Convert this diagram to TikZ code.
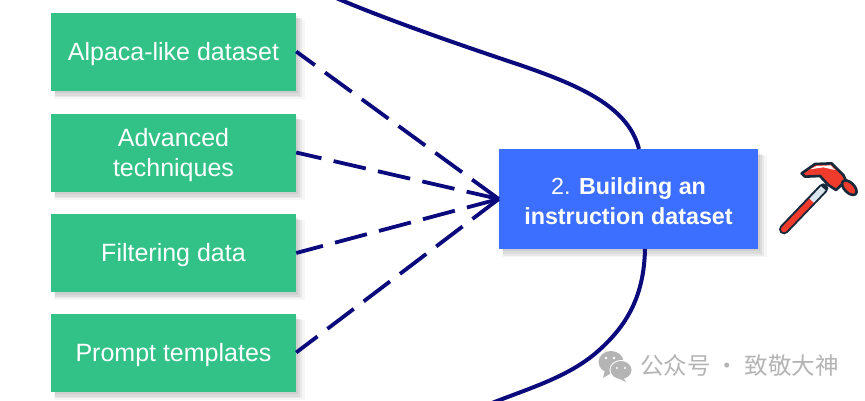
\documentclass[tikz,border=0pt]{standalone}
\usepackage{fontspec}
\setmainfont{Liberation Sans}
\newfontfamily\cjkfont{Noto Sans CJK SC}
\usetikzlibrary{shadows}
\definecolor{boxgreen}{HTML}{32C287}
\definecolor{boxblue}{HTML}{3C6EFF}
\definecolor{navyline}{HTML}{0A0A7D}
\definecolor{hamdark}{HTML}{16283A}
\definecolor{hamred}{HTML}{EE3B2C}
\definecolor{hamlight}{HTML}{DCE6F0}
\definecolor{wmgray}{HTML}{B4B4B4}
\newcommand{\lowg}{\rule{0pt}{23pt}}
\newcommand{\lowb}{\rule{0pt}{21pt}}
\tikzset{
  softshadow/.style={
    preaction={drop shadow={shadow xshift=6pt,shadow yshift=-7pt,opacity=.035,fill=black,shadow scale=1.025}},
    preaction={drop shadow={shadow xshift=5pt,shadow yshift=-6pt,opacity=.05,fill=black,shadow scale=1.01}},
    preaction={drop shadow={shadow xshift=4pt,shadow yshift=-5pt,opacity=.06,fill=black}},
    preaction={drop shadow={shadow xshift=3pt,shadow yshift=-3pt,opacity=.06,fill=black,shadow scale=.99}}},
  greenbox/.style={softshadow,fill=boxgreen,text=white,minimum width=245pt,minimum height=78pt,align=center,inner sep=0pt,font=\fontsize{25}{30}\selectfont},
  bluebox/.style={softshadow,fill=boxblue,text=white,minimum width=259pt,minimum height=100pt,align=center,inner sep=0pt,font=\fontsize{23.3}{30}\selectfont},
  dashlink/.style={draw=navyline,line width=3.8pt,dash pattern=on 33pt off 12.5pt},
  solidlink/.style={draw=navyline,line width=4pt},
}
\begin{document}
\begin{tikzpicture}[x=1pt,y=-1pt]
\useasboundingbox (0,0) rectangle (865,400);
\fill[white] (0,0) rectangle (865,400);
\coordinate (topfree) at (334,-3);
\coordinate (botfree) at (492,403);
\node[bluebox] (blue) at (628.5,199) {\lowb 2. \textbf{Building an}\\\textbf{instruction dataset}};
\coordinate (blueT) at (639,149);
\coordinate (blueB) at (645,249);
\draw[solidlink] (topfree) .. controls (375,15) and (445,40) .. (520,65) .. controls (575,84) and (628,105) .. (blueT);
\draw[solidlink] (blueB) .. controls (644,295) and (628,325) .. (597,352) .. controls (568,377) and (530,388) .. (botfree);
\node[greenbox] (a) at (173.5,51.5) {\lowg Alpaca-like dataset};
\node[greenbox] (b) at (173.5,152.5) {\lowg Advanced\\techniques};
\node[greenbox] (c) at (173.5,253) {\lowg Filtering data};
\node[greenbox] (d) at (173.5,352.5) {\lowg Prompt templates};
\draw[dashlink] (blue.west) -- (a.east);
\draw[dashlink] (blue.west) -- (b.east);
\draw[dashlink] (blue.west) -- (c.east);
\draw[dashlink] (blue.west) -- (d.east);
% hammer
\begin{scope}[shift={(760,140)},x=0.3333pt,y=-0.3333pt]
\draw[hamdark,line width=10pt,line cap=round] (72,268) -- (190,145);
\draw[hamred,line width=6pt,line cap=round] (72,268) -- (155,182);
\draw[hamlight,line width=6pt] (155,182) -- (190,145);
\filldraw[draw=hamdark,line width=2.6pt,fill=hamred,line join=round] (125,100) -- (165,72) -- (215,70) -- (250,105) -- (258,122) -- (228,150) -- (205,135) -- (180,108) -- (135,110) -- cycle;
\fill[white] (150,88) -- (170,78) -- (212,76) -- (225,90) -- (190,82) -- cycle;
\filldraw[draw=hamdark,line width=2.6pt,fill=hamred,line join=round,rotate around={-45:(268,143)}] (268,143) ellipse [x radius=27,y radius=15];
\end{scope}
% watermark
\fill[wmgray] (611,362) ellipse [x radius=12.5,y radius=11];
\fill[wmgray] (605,370) -- (603,378) -- (613,372) -- cycle;
\fill[white] (621,370) ellipse [x radius=11.5,y radius=10];
\fill[wmgray] (621,370) ellipse [x radius=10.5,y radius=9];
\fill[wmgray] (623,377) -- (626,382) -- (618,378) -- cycle;
\fill[white] (606,358) circle (1.3) (614,358) circle (1.3) (617,368) circle (1.2) (625,368) circle (1.2);
\node[text=wmgray,font=\cjkfont\fontsize{23.5}{28}\selectfont,anchor=west,inner sep=0pt] (wm) at (640,366) {公众号 · 致敬大神};
\end{tikzpicture}
\end{document}
